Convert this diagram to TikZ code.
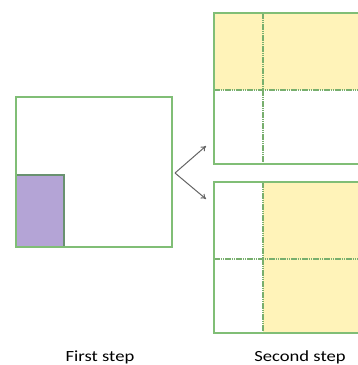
\documentclass[tikz,border=0pt]{standalone}
\usepackage{fontspec}
\setmainfont{Carlito}
\usetikzlibrary{arrows.meta}
\definecolor{boxgreen}{RGB}{128,190,118}
\definecolor{darkgreen}{RGB}{105,145,112}
\definecolor{lightyellow}{RGB}{255,243,185}
\definecolor{lightpurple}{RGB}{180,164,214}
\definecolor{arrowgray}{RGB}{100,100,100}
\definecolor{dotgreen}{RGB}{120,175,110}
\tikzset{
  frame/.style={draw=boxgreen, line width=1.3pt},
  divider/.style={draw=dotgreen, line width=1.2pt, dash pattern=on 1.5pt off 0.7pt},
  pointer/.style={draw=arrowgray, line width=1pt, -{To[length=5pt,width=6pt]}},
  caption/.style={font=\fontsize{15.5}{18}\selectfont, text=black, anchor=base, inner sep=0pt, xscale=1.2, transform shape}
}
\begin{document}
\begin{tikzpicture}[x=1pt,y=-1pt]
\useasboundingbox (0,0) rectangle (358,365);
\clip (0,0) rectangle (358,365);
% first step
\fill[lightpurple] (16,175) rectangle (64,247);
\draw[darkgreen, line width=1.2pt] (16,175) -- (64,175) -- (64,247);
\node[frame, minimum width=156pt, minimum height=150pt, inner sep=0pt] (first) at (94,172) {};
% second step, top
\fill[lightyellow] (214,13) rectangle (370,90);
\draw[divider] (214,90) -- (370,90);
\draw[divider] (263,13) -- (263,164);
\draw[frame] (370,13) -- (214,13) -- (214,164) -- (370,164);
% second step, bottom
\fill[lightyellow] (263,182) rectangle (370,333);
\draw[divider] (214,259) -- (370,259);
\draw[divider] (263,182) -- (263,333);
\draw[frame] (370,182) -- (214,182) -- (214,333) -- (370,333);
% arrows
\coordinate (apex) at (175,173);
\coordinate (toptip) at (206,146);
\coordinate (bottip) at (206,199);
\draw[pointer] (apex) -- (toptip);
\draw[pointer] (apex) -- (bottip);
% captions
\node[caption] (cap1) at (100,361.7) {First step};
\node[caption] (cap2) at (300,361.7) {Second step};
\end{tikzpicture}
\end{document}
